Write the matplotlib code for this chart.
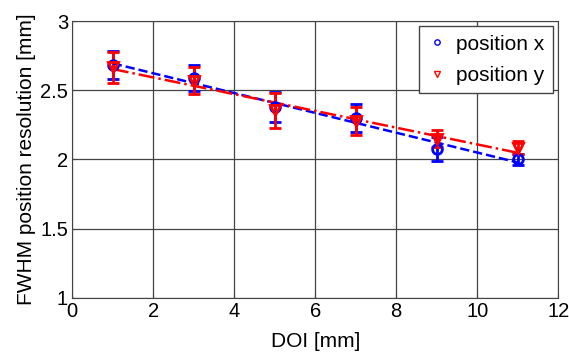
import numpy as np
import matplotlib.pyplot as plt

plt.rcParams['font.family'] = ['Liberation Sans', 'DejaVu Sans']

# DOI positions [mm]
doi = [1, 3, 5, 7, 9, 11]

# position x: FWHM and error
pos_x = [2.68, 2.585, 2.38, 2.297, 2.075, 2.0]
err_x = [0.10, 0.094, 0.107, 0.10, 0.085, 0.04]

# position y: FWHM and error
pos_y = [2.665, 2.57, 2.355, 2.278, 2.15, 2.085]
err_y = [0.112, 0.10, 0.125, 0.10, 0.06, 0.045]

fig = plt.figure(figsize=(5.69, 3.57), dpi=100)
ax = fig.add_axes([0.127, 0.166, 0.854, 0.775])

# linear fits
fx = np.polyfit(doi, pos_x, 1)
fy = np.polyfit(doi, pos_y, 1)
xx = np.array([doi[0], doi[-1]])

ax.errorbar(doi, pos_x, yerr=err_x, fmt='none', ecolor='blue', elinewidth=2,
            capsize=4, capthick=2, zorder=3)
ax.errorbar(doi, pos_y, yerr=err_y, fmt='none', ecolor='red', elinewidth=2,
            capsize=4, capthick=2, zorder=4)
ax.plot(xx, np.polyval(fx, xx), '--', color='blue', lw=1.8, zorder=5)
ax.plot(xx, np.polyval(fy, xx), '-.', color='red', lw=1.8, zorder=5)
ax.plot(doi, pos_x, 'o', mfc='none', mec='blue', ms=7, mew=2, zorder=6,
        label='position x')
ax.plot(doi, pos_y, 'v', mfc='none', mec='red', ms=7, mew=2, zorder=6,
        label='position y')

ax.set_xlim(0, 12)
ax.set_ylim(1, 3)
ax.set_xticks([0, 2, 4, 6, 8, 10, 12])
ax.set_yticks([1, 1.5, 2, 2.5, 3])
ax.set_yticklabels(['1', '1.5', '2', '2.5', '3'])
ax.grid(True, color='#444444', linewidth=0.9, linestyle='-')
ax.tick_params(labelsize=14.5, direction='in', length=3, color='#444444', pad=3)
for s in ax.spines.values():
    s.set_color('#444444')
ax.set_xlabel('DOI [mm]', fontsize=15, labelpad=8)
ax.set_ylabel('FWHM position resolution [mm]', fontsize=15, labelpad=3)

leg = ax.legend(loc='upper right', fontsize=15, fancybox=False, framealpha=1,
                edgecolor='#444444', handlelength=0.9, handletextpad=0.5,
                borderaxespad=0.25, markerscale=0.55, labelspacing=0.6,
                borderpad=0.4)
for h in leg.legend_handles:
    h.set_markeredgewidth(1)

fig.savefig('out.png', dpi=100)
